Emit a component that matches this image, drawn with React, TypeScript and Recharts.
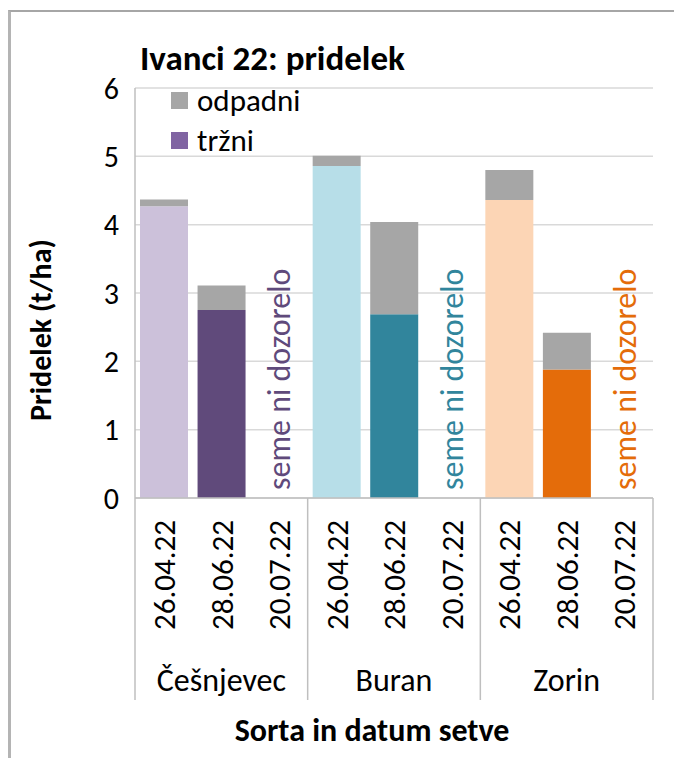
import { Bar, BarChart, CartesianGrid, Cell, Legend, XAxis, YAxis } from "recharts"

const sorte = ["Češnjevec", "Buran", "Zorin"]
const datumi = ["26.04.22", "28.06.22", "20.07.22"]
const trzni = [4.27, 2.75, null, 4.86, 2.69, null, 4.36, 1.88, null]
const odpadni = [0.1, 0.36, null, 0.15, 1.35, null, 0.44, 0.54, null]
const yTicks = [0, 1, 2, 3, 4, 5, 6]
const opomba = "seme ni dozorelo"
const legendaVrstni = ["odpadni", "tržni"]

// per-variety colours: light = first sowing, dark = second
const barvaSvetla = ["#CCC1DA", "#B7DEE8", "#FCD5B5"]
const barvaTemna = ["#604A7B", "#31859C", "#E46C0A"]
const barvaOpomba = ["#5F4A7B", "#31859C", "#E46C0A"]

const data = sorte.flatMap((sorta, si) =>
  datumi.map((datum, di) => {
    const i = si * datumi.length + di
    return { key: `${sorta}|${datum}`, sorta, datum, trzni: trzni[i], odpadni: odpadni[i] }
  })
)

const W = 674
const H = 758
const M = { top: 88, right: 21, bottom: 58, left: 0 }
const Y_W = 135
const X_H = 202
const BAND = (W - M.left - Y_W - M.right) / data.length
const FONT = "Carlito, Lato, sans-serif"

function DateTick(props: any) {
  const { x, y, index } = props
  const d = data[index]
  const si = Math.floor(index / datumi.length)
  const di = index % datumi.length
  return (
    <g>
      <text
        transform={`translate(${x},${y + 22}) rotate(-90)`}
        textAnchor="end"
        dy="0.36em"
        fontSize={31}
        fontFamily={FONT}
        fill="#000"
      >
        {d.datum}
      </text>
      {di === 0 && <line x1={x - BAND / 2} x2={x - BAND / 2} y1={y} y2={y + X_H} stroke="#BFBFBF" strokeWidth={1.5} />}
      {index === data.length - 1 && (
        <line x1={x + BAND / 2} x2={x + BAND / 2} y1={y} y2={y + X_H} stroke="#BFBFBF" strokeWidth={1.5} />
      )}
      {di === 1 && (
        <text x={x} y={y + 193} textAnchor="middle" fontSize={32} fontFamily={FONT} fill="#000">
          {d.sorta}
        </text>
      )}
      {d.trzni == null && (
        <text
          transform={`translate(${x},${y - 8}) rotate(-90)`}
          textAnchor="start"
          dy="0.36em"
          fontSize={32}
          fontFamily={FONT}
          fill={barvaOpomba[si]}
        >
          {opomba}
        </text>
      )}
    </g>
  )
}

// zero-height wrapper so the legend sits inside the plot without taking space
function Legenda(props: any) {
  const items = [...(props.payload || [])].sort(
    (a: any, b: any) => legendaVrstni.indexOf(a.value) - legendaVrstni.indexOf(b.value)
  )
  return (
    <div style={{ height: 0, overflow: "visible", position: "relative" }}>
      <div style={{ position: "absolute", left: 0, top: 0, fontFamily: FONT, fontSize: 31, lineHeight: "40px", color: "#000" }}>
        {items.map((it: any) => (
          <div key={it.value} style={{ display: "flex", alignItems: "center", whiteSpace: "nowrap" }}>
            <span style={{ width: 17, height: 17, background: it.color, display: "inline-block", marginRight: 9 }} />
            <span>{it.value}</span>
          </div>
        ))}
      </div>
    </div>
  )
}

export default function App() {
  return (
    <div style={{ position: "absolute", left: 0, top: 0, width: W, height: H, background: "#fff", overflow: "hidden" }}>
      <div
        style={{
          position: "absolute",
          left: 8,
          top: 10,
          right: 0,
          bottom: 0,
          borderLeft: "3px solid #B4B4B4",
          borderTop: "2px solid #A6A6A6",
        }}
      />
      <BarChart width={W} height={H} data={data} margin={M} barSize={48}>
        <CartesianGrid vertical={false} stroke="#D9D9D9" strokeWidth={1.5} />
        <XAxis
          dataKey="key"
          interval={0}
          height={X_H}
          tickLine={false}
          tickSize={0}
          tickMargin={0}
          axisLine={{ stroke: "#BFBFBF", strokeWidth: 1.5 }}
          tick={<DateTick />}
        />
        <YAxis
          width={Y_W}
          domain={[0, 6]}
          ticks={yTicks}
          interval={0}
          tickLine={false}
          tickMargin={10}
          axisLine={{ stroke: "#BFBFBF", strokeWidth: 1.5 }}
          tick={{ fontSize: 30, fontFamily: FONT, fill: "#000" }}
        />
        <Legend
          verticalAlign="top"
          align="left"
          height={0}
          content={<Legenda />}
          wrapperStyle={{ position: "absolute", left: 171, top: 80, width: 200, height: 0 }}
        />
        <Bar dataKey="trzni" name="tržni" stackId="a" fill="#8064A2" isAnimationActive={false}>
          {data.map((d, i) => {
            const si = Math.floor(i / datumi.length)
            return <Cell key={d.key} fill={i % datumi.length === 0 ? barvaSvetla[si] : barvaTemna[si]} />
          })}
        </Bar>
        <Bar dataKey="odpadni" name="odpadni" stackId="a" fill="#A6A6A6" isAnimationActive={false} />
        <text x={140} y={70} fontSize={35} fontWeight="bold" fontFamily={FONT} fill="#000">
          Ivanci 22: pridelek
        </text>
        <text
          transform="translate(40,330) rotate(-90)"
          textAnchor="middle"
          dy="0.35em"
          fontSize={30}
          fontWeight="bold"
          fontFamily={FONT}
          fill="#000"
        >
          Pridelek (t/ha)
        </text>
        <text x={372} y={741} textAnchor="middle" fontSize={32} fontWeight="bold" fontFamily={FONT} fill="#000">
          Sorta in datum setve
        </text>
      </BarChart>
    </div>
  )
}
